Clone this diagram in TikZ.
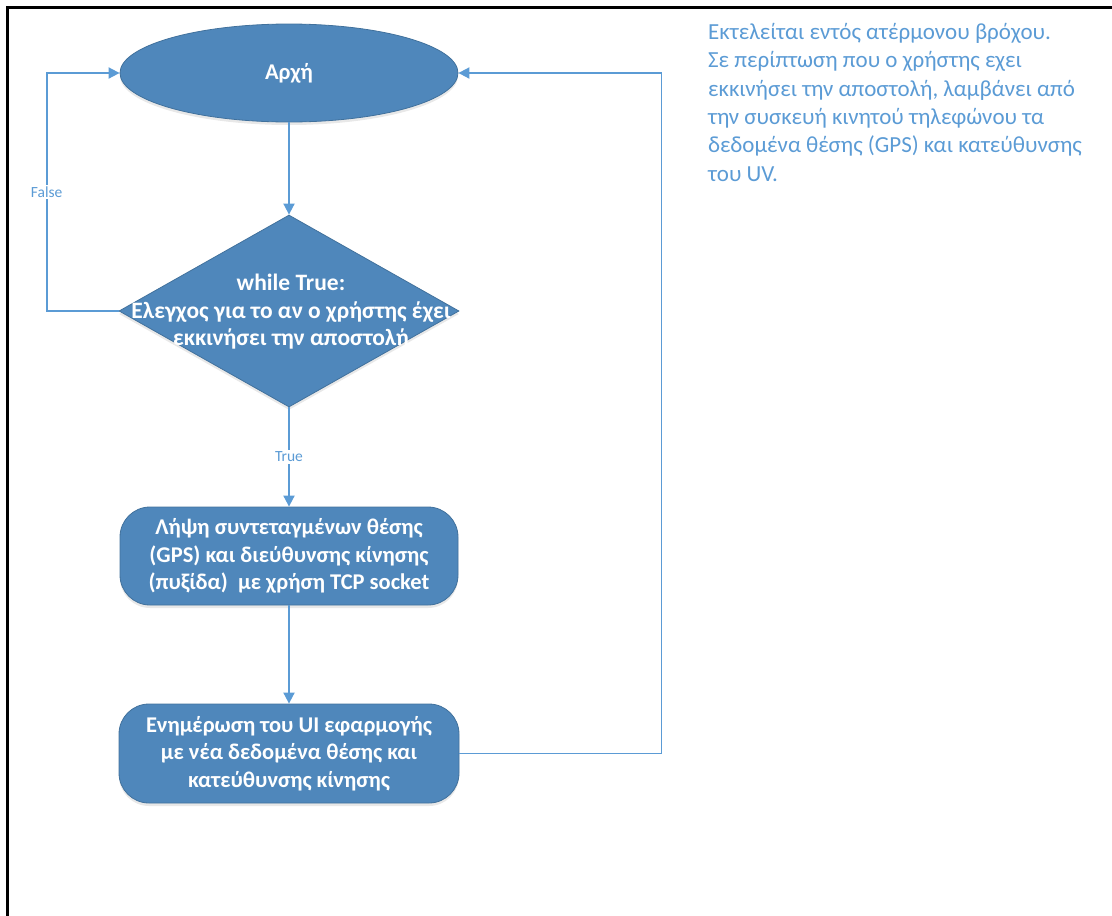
\documentclass[tikz,border=0pt]{standalone}
\usepackage{fontspec}
\setmainfont{Carlito}
\usetikzlibrary{arrows.meta,shapes.geometric,shadows}
\definecolor{stepblue}{RGB}{79,135,187}
\definecolor{stepedge}{RGB}{65,113,156}
\definecolor{lineblue}{RGB}{91,155,213}

\begin{document}
\begin{tikzpicture}[x=1pt, y=-1pt,
  flowbox/.style={fill=stepblue, draw=stepedge, line width=0.8pt, inner sep=0pt,
    drop shadow={opacity=0.18, shadow xshift=0pt, shadow yshift=-3pt}},
  boxtext/.style={text=white, align=center, inner sep=0pt,
    font=\fontsize{22.5}{27.5}\selectfont\bfseries},
  link/.style={draw=lineblue, line width=1.8pt, -{Triangle[length=11pt, width=11pt]}},
  lbl/.style={fill=white, text=lineblue, inner sep=2pt, font=\fontsize{15.5}{18}\selectfont}]
\useasboundingbox (0,0) rectangle (1112,916);
\draw[line width=3pt] (7,916) -- (7,7) -- (1112,7);
\node[flowbox, ellipse, minimum width=338pt, minimum height=98pt] (start) at (289,73) {};
\node[boxtext] at (start) {Αρχή};
\node[flowbox, diamond, minimum width=340pt, minimum height=192pt] (check) at (289,311) {};
\node[boxtext, font=\fontsize{23.5}{27.5}\selectfont\bfseries] at (291,312)
  {while True:\\Ελεγχος για το αν ο χρήστης έχει\\εκκινήσει την αποστολή};
\node[flowbox, rounded corners=30pt, minimum width=338pt, minimum height=98pt] (gps) at (289,556) {};
\node[boxtext] at (gps) {Λήψη συντεταγμένων θέσης\\(GPS) και διεύθυνσης κίνησης\\(πυξίδα)~ με χρήση TCP socket};
\node[flowbox, rounded corners=30pt, minimum width=340pt, minimum height=99pt] (update) at (289,753.5) {};
\node[boxtext] at (update) {Ενημέρωση του UI εφαρμογής\\με νέα δεδομένα θέσης και\\κατεύθυνσης κίνησης};
\node[anchor=north west, align=left, inner sep=0pt, text=lineblue,
  font=\fontsize{23}{28.4}\selectfont] (note) at (708,23)
  {Εκτελείται εντός ατέρμονου βρόχου.\\Σε περίπτωση που ο χρήστης εχει\\εκκινήσει την αποστολή, λαμβάνει από\\την συσκευή κινητού τηλεφώνου τα\\δεδομένα θέσης (GPS) και κατεύθυνσης\\του UV.};
\draw[link] (start) -- (check);
\draw[link] (check.west) -- ++(-72,0) |- node[lbl, pos=0.25] {False} (start.west);
\draw[link] (check) -- node[lbl] {True} (gps);
\draw[link] (gps) -- (update);
\draw[link] (update.east) -- ++(202,0) |- (start.east);
\end{tikzpicture}
\end{document}
